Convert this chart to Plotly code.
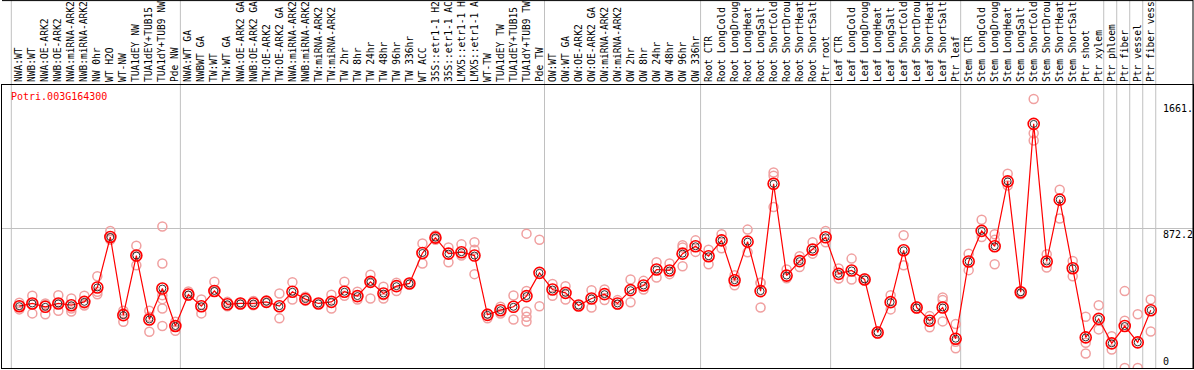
import plotly.graph_objects as go

# ---------------- data ----------------
gene_id = "Potri.003G164300"

categories = [
    "NWA:WT", "NWB:WT", "NWA:OE-ARK2", "NWB:OE-ARK2", "NWA:miRNA-ARK2", "NWB:miRNA-ARK2",
    "NW 0hr", "WT H2O", "WT-NW", "TUA1dEY NW", "TUA1dEY+TUB15", "TUA1dY+TUB9 NW", "Pde NW",
    "NWA:WT GA", "NWBWT GA", "TW:WT", "TW:WT GA", "NWA:OE-ARK2 GA", "NWB:OE-ARK2 GA",
    "TW:OE-ARK2", "TW:OE-ARK2 GA", "NWA:miRNA-ARK2", "NWB:miRNA-ARK2", "TW:miRNA-ARK2",
    "TW:miRNA-ARK2", "TW 2hr", "TW 8hr", "TW 24hr", "TW 48hr", "TW 96hr", "TW 336hr",
    "WT ACC", "35S::etr1-1 H2", "35S::etr1-1 AC", "LMX5::etr1-1 H", "LMX5::etr1-1 A",
    "WT-TW", "TUA1dEY TW", "TUA1dEY+TUB15", "TUA1dY+TUB9 TW", "Pde TW",
    "OW:WT", "OW:WT GA", "OW:OE-ARK2", "OW:OE-ARK2 GA", "OW:miRNA-ARK2", "OW:miRNA-ARK2",
    "OW 2hr", "OW 8hr", "OW 24hr", "OW 48hr", "OW 96hr", "OW 336hr",
    "Root CTR", "Root LongCold", "Root LongDroug", "Root LongHeat", "Root LongSalt",
    "Root ShortCold", "Root ShortDrou", "Root ShortHeat", "Root ShortSalt", "Ptr root",
    "Leaf CTR", "Leaf LongCold", "Leaf LongDroug", "Leaf LongHeat", "Leaf LongSalt",
    "Leaf ShortCold", "Leaf ShortDrou", "Leaf ShortHeat", "Leaf ShortSalt", "Ptr leaf",
    "Stem CTR", "Stem LongCold", "Stem LongDroug", "Stem LongHeat", "Stem LongSalt",
    "Stem ShortCold", "Stem ShortDrou", "Stem ShortHeat", "Stem ShortSalt", "Ptr shoot",
    "Ptr xylem", "Ptr phloem", "Ptr fiber", "Ptr vessel", "Ptr fiber vess",
]

mean_values = [
    386, 403, 382, 403, 392, 413, 503, 818, 330, 702, 303, 496, 262,
    459, 386, 481, 398, 403, 403, 413, 386, 476, 430, 403, 413, 476, 449, 538, 465, 511, 528,
    718, 814, 714, 723, 702, 332, 361, 382, 449, 594,
    490, 469, 390, 434, 461, 403, 486, 515, 615, 609, 714, 760,
    698, 797, 548, 789, 480, 1150, 577, 667, 739, 816,
    588, 609, 553, 222, 411, 735, 378, 295, 378, 183,
    665, 856, 760, 1165, 473, 1524, 665, 1051, 623, 191,
    307, 154, 262, 160, 361,
]

replicate_values = [
    [407, 389, 366], [451, 398, 341], [403, 395, 336], [455, 403, 357], [434, 372, 352],
    [451, 403, 390], [573, 476, 460], [856, 813, 801], [357, 340, 289], [764, 700, 642],
    [357, 320, 226], [883, 652, 455, 430, 372, 262], [289, 262, 232],
    [478, 451], [428, 341], [538, 476], [413, 386], [407, 398], [418, 392], [423, 407],
    [465, 310], [536, 428], [445, 420], [403], [457, 372], [538, 451], [476, 428],
    [583, 540, 434], [507, 455, 434], [532, 481], [532, 524],
    [777, 652], [828, 814, 801], [752, 660], [772, 702], [785, 739, 586],
    [340, 310], [382, 340], [453, 303], [839, 481, 353, 320, 290], [801, 386],
    [524, 451], [511, 428], [392], [486, 378], [490, 424], [424, 395], [553, 411],
    [544, 490], [660, 565], [652, 586], [766, 752, 635], [797, 725],
    [739, 648], [835, 748], [579, 517], [864, 723], [532, 532, 378], [1221, 1200, 1005],
    [615, 560], [698, 631], [785, 714], [855, 785],
    [621, 559], [683, 553], [560, 548], [230, 215], [455, 366], [829, 642], [385, 372],
    [324, 254], [440, 424, 291], [274, 164, 123],
    [714, 611], [926, 818], [835, 800, 648], [1213, 1140], [478, 461], [1680, 1466, 1420],
    [710, 627], [1113, 933], [668, 573], [320, 158, 91],
    [392, 241], [199, 116], [480, 295, 0], [336, 0], [428, 228],
]

# categories that start a new group (vertical separator drawn before them), plus end
group_starts = [0, 13, 41, 53, 63, 73, 84, 85, 86, 87, 88]

right_labels = ["1661.", "872.2", "0"]
right_label_values = [1661, 872.2, 0]
grid_value = 872.2
y_max = 1767

# ---------------- figure ----------------
W, H = 1194, 370
ML, MR, MT, MB = 2, 1, 85, 2
plot_w = W - ML - MR
plot_h = H - MT - MB
step_px = 13.005
x0_px = 17.3  # offset of first category inside plot area
x_lo = -x0_px / step_px
x_hi = x_lo + plot_w / step_px

xs = list(range(len(categories)))
rep_x, rep_y = [], []
for i, reps in enumerate(replicate_values):
    for v in reps:
        rep_x.append(i)
        rep_y.append(v)

mono = "DejaVu Sans Mono"

fig = go.Figure()
fig.add_trace(go.Scatter(
    x=rep_x, y=rep_y, mode="markers",
    marker=dict(symbol="circle-open", size=9, color="#f0a0a0", line=dict(width=1.5, color="#f0a0a0")),
    hoverinfo="skip", showlegend=False,
))
fig.add_trace(go.Scatter(
    x=xs, y=mean_values, mode="lines",
    line=dict(color="#ff0000", width=1.2),
    showlegend=False,
))
fig.add_trace(go.Scatter(
    x=xs, y=mean_values, mode="markers",
    marker=dict(symbol="circle-open", size=11, color="#ff0000", line=dict(width=1.6, color="#ff0000")),
    showlegend=False,
))
fig.add_trace(go.Scatter(
    x=xs, y=mean_values, mode="markers",
    marker=dict(symbol="circle-open", size=7, color="#202020", line=dict(width=0.9, color="#202020")),
    hoverinfo="skip", showlegend=False,
))

top_paper = 1 + MT / plot_h
shapes = []
for g in group_starts:
    shapes.append(dict(type="line", xref="x", yref="paper", x0=g - 0.615, x1=g - 0.615,
                       y0=0, y1=top_paper, line=dict(color="#c0c0c0", width=1), layer="below"))
shapes.append(dict(type="line", xref="paper", yref="paper", x0=0, x1=1,
                   y0=top_paper - 0.6 / plot_h, y1=top_paper - 0.6 / plot_h,
                   line=dict(color="black", width=1)))
shapes.append(dict(type="line", xref="paper", yref="paper", x0=1, x1=1,
                   y0=0, y1=top_paper, line=dict(color="black", width=1)))

annotations = [dict(
    text=gene_id, xref="paper", yref="paper", x=(9 - ML) / plot_w, y=(H - MB - 97) / plot_h,
    xanchor="left", yanchor="middle", showarrow=False,
    font=dict(family=mono, size=10, color="#ff0000"),
)]
for lab, v in zip(right_labels, right_label_values):
    annotations.append(dict(
        text=lab, xref="paper", yref="y", x=(1162 - ML) / plot_w, y=v,
        xanchor="left", yanchor="bottom" if v == 0 else "top", showarrow=False,
        font=dict(family=mono, size=10, color="black"), borderpad=0,
    ))

fig.update_layout(
    width=W, height=H,
    margin=dict(l=ML, r=MR, t=MT, b=MB, pad=0),
    paper_bgcolor="white", plot_bgcolor="white",
    showlegend=False,
    shapes=shapes, annotations=annotations,
    xaxis=dict(
        range=[x_lo, x_hi], side="top", tickmode="array", tickvals=xs, ticktext=categories,
        tickangle=-90, ticks="", showgrid=False, zeroline=False, ticklabelstandoff=0,
        showline=True, linecolor="black", linewidth=1, mirror=True,
        tickfont=dict(family=mono, size=9.6, color="black"), automargin=False,
    ),
    yaxis=dict(
        range=[0, y_max], tickmode="array", tickvals=[grid_value], showticklabels=False,
        ticks="", showgrid=True, gridcolor="#c0c0c0", gridwidth=1, zeroline=False,
        showline=True, linecolor="black", linewidth=1, mirror=True, automargin=False,
    ),
)

fig.write_html(
    "out.html",
    config={"displayModeBar": False},
    post_script="document.body.style.margin='0';document.body.style.overflow='hidden';",
)
